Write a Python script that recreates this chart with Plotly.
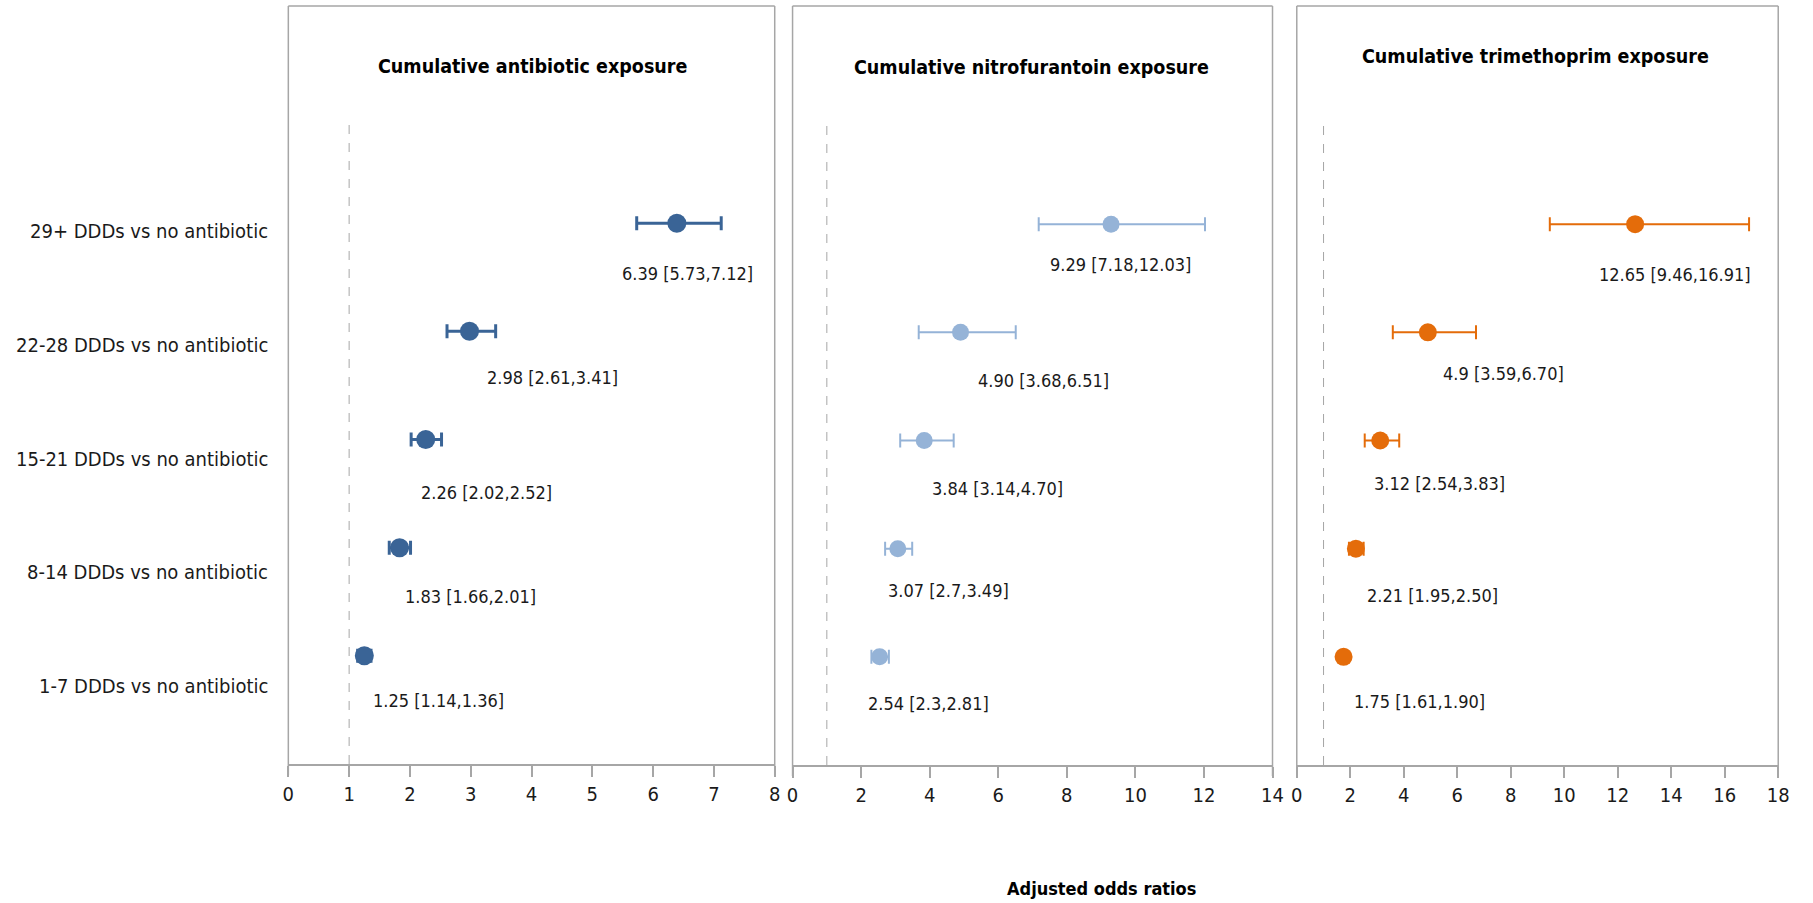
import plotly.graph_objects as go

# ---------------- data ----------------
categories = ["1-7 DDDs vs no antibiotic", "8-14 DDDs vs no antibiotic",
              "15-21 DDDs vs no antibiotic", "22-28 DDDs vs no antibiotic",
              "29+ DDDs vs no antibiotic"]
rows = [1, 2, 3, 4, 5]

panel_titles = ["Cumulative antibiotic exposure",
                "Cumulative nitrofurantoin exposure",
                "Cumulative trimethoprim exposure"]

abx_or = [1.25, 1.83, 2.26, 2.98, 6.39]
abx_lo = [1.14, 1.66, 2.02, 2.61, 5.73]
abx_hi = [1.36, 2.01, 2.52, 3.41, 7.12]
abx_lab = ["1.25 [1.14,1.36]", "1.83 [1.66,2.01]", "2.26 [2.02,2.52]",
           "2.98 [2.61,3.41]", "6.39 [5.73,7.12]"]

nit_or = [2.54, 3.07, 3.84, 4.90, 9.29]
nit_lo = [2.3, 2.7, 3.14, 3.68, 7.18]
nit_hi = [2.81, 3.49, 4.70, 6.51, 12.03]
nit_lab = ["2.54 [2.3,2.81]", "3.07 [2.7,3.49]", "3.84 [3.14,4.70]",
           "4.90 [3.68,6.51]", "9.29 [7.18,12.03]"]

tmp_or = [1.75, 2.21, 3.12, 4.9, 12.65]
tmp_lo = [1.61, 1.95, 2.54, 3.59, 9.46]
tmp_hi = [1.90, 2.50, 3.83, 6.70, 16.91]
tmp_lab = ["1.75 [1.61,1.90]", "2.21 [1.95,2.50]", "3.12 [2.54,3.83]",
           "4.9 [3.59,6.70]", "12.65 [9.46,16.91]"]

x_max = [8, 14, 18]
x_dtick = [1, 2, 2]
x_title = "Adjusted odds ratios"

# ---------------- style / layout ----------------
W, H = 1813, 903
FONT = "DejaVu Sans Condensed, Liberation Sans Narrow, Arial Narrow, sans-serif"
TXT = "#1a1a1a"
GRAY = "#a6a6a6"
colors = ["#3a6496", "#95b3d7", "#e46c0a"]
err_thick = [3, 2, 2]
marker_size = [19, 17, 18]

# pixel geometry of each panel (left, right, axis line y, top of plot area)
px_left = [285, 794, 1303]
px_right = [776, 1278.5, 1789]
px_bottom = [764, 765, 765]
px_top = [115, 116, 116]
frame_top = 6
tick_len = 11
title_pos = [(531, 66), (1035, 67), (1544, 57)]

# label offsets (pixels) relative to each marker
lab_dx = [[74, 71, 61, 83, 11],
          [49, 51, 73, 83, 9],
          [76, 77, 59, 76, 40]]
lab_dy = [[-45, -49, -53, -46, -50],
          [-47, -42, -48, -48, -40],
          [-45, -47, -43, -41, -50]]


def px(x):
    return x / W


def py(y):
    return 1 - y / H


fig = go.Figure()
series = [(abx_or, abx_lo, abx_hi, abx_lab),
          (nit_or, nit_lo, nit_hi, nit_lab),
          (tmp_or, tmp_lo, tmp_hi, tmp_lab)]

annotations = []
shapes = []

for i, (orv, lo, hi, lab) in enumerate(series):
    xa = "x" if i == 0 else f"x{i+1}"
    ya = "y" if i == 0 else f"y{i+1}"
    fig.add_trace(go.Scatter(
        x=orv, y=rows, mode="markers", xaxis=xa, yaxis=ya,
        marker=dict(size=marker_size[i], color=colors[i]),
        error_x=dict(type="data", symmetric=False,
                     array=[h - o for h, o in zip(hi, orv)],
                     arrayminus=[o - l for o, l in zip(orv, lo)],
                     color=colors[i], thickness=err_thick[i], width=7),
        showlegend=False, hoverinfo="skip"))

    axn = "" if i == 0 else str(i + 1)
    fig.update_layout(**{
        f"xaxis{axn}": dict(
            domain=[px(px_left[i]), px(px_right[i])], anchor=ya,
            range=[0, x_max[i]], tick0=0, dtick=x_dtick[i],
            showgrid=False, zeroline=False, showline=True,
            linecolor=GRAY, linewidth=2, ticks="outside", ticklen=tick_len,
            tickwidth=1.5, tickcolor=GRAY,
            tickfont=dict(family=FONT, size=20, color=TXT), fixedrange=True),
        f"yaxis{axn}": dict(
            domain=[py(px_bottom[i]), py(px_top[i])], anchor=xa,
            range=[0, 6], visible=False, fixedrange=True),
    })

    # reference line at OR = 1
    shapes.append(dict(type="line", xref=xa, yref=ya, x0=1, x1=1, y0=0, y1=5.96,
                       line=dict(color=GRAY, width=1, dash="dash")))
    # panel frame (left, top, right)
    for (x0, y0, x1, y1) in [
        (px_left[i], px_bottom[i] + tick_len, px_left[i], frame_top),
        (px_left[i], frame_top, px_right[i], frame_top),
        (px_right[i], frame_top, px_right[i], px_bottom[i] + tick_len),
    ]:
        shapes.append(dict(type="line", xref="paper", yref="paper",
                           x0=px(x0), y0=py(y0), x1=px(x1), y1=py(y1),
                           line=dict(color=GRAY, width=1.5)))

    # value labels
    for k in range(len(rows)):
        annotations.append(dict(
            x=orv[k], y=rows[k], xref=xa, yref=ya, text=lab[k],
            showarrow=False, xanchor="center", yanchor="middle",
            xshift=lab_dx[i][k], yshift=lab_dy[i][k],
            font=dict(family=FONT, size=18, color=TXT)))

    # panel title
    annotations.append(dict(
        x=px(title_pos[i][0]), y=py(title_pos[i][1]), xref="paper", yref="paper",
        text=f"<b>{panel_titles[i]}</b>", showarrow=False,
        xanchor="center", yanchor="middle",
        font=dict(family=FONT, size=19.5, color="#000000")))

# category labels on the left
for k, (r, c) in enumerate(zip(rows, categories)):
    annotations.append(dict(
        x=px(267), y=r, xref="paper", yref="y", text=c, showarrow=False,
        xanchor="right", yanchor="middle", yshift=-(30 - 5.5 * k),
        font=dict(family=FONT, size=20, color=TXT)))

# common x title
annotations.append(dict(
    x=px(1106), y=py(888), xref="paper", yref="paper",
    text=f"<b>{x_title}</b>", showarrow=False, xanchor="center",
    yanchor="middle", font=dict(family=FONT, size=18, color="#000000")))

fig.update_layout(
    width=W, height=H, margin=dict(l=0, r=0, t=0, b=0),
    paper_bgcolor="white", plot_bgcolor="white",
    shapes=shapes, annotations=annotations, showlegend=False,
)

fig.write_html("out.html", config={"displayModeBar": False})
